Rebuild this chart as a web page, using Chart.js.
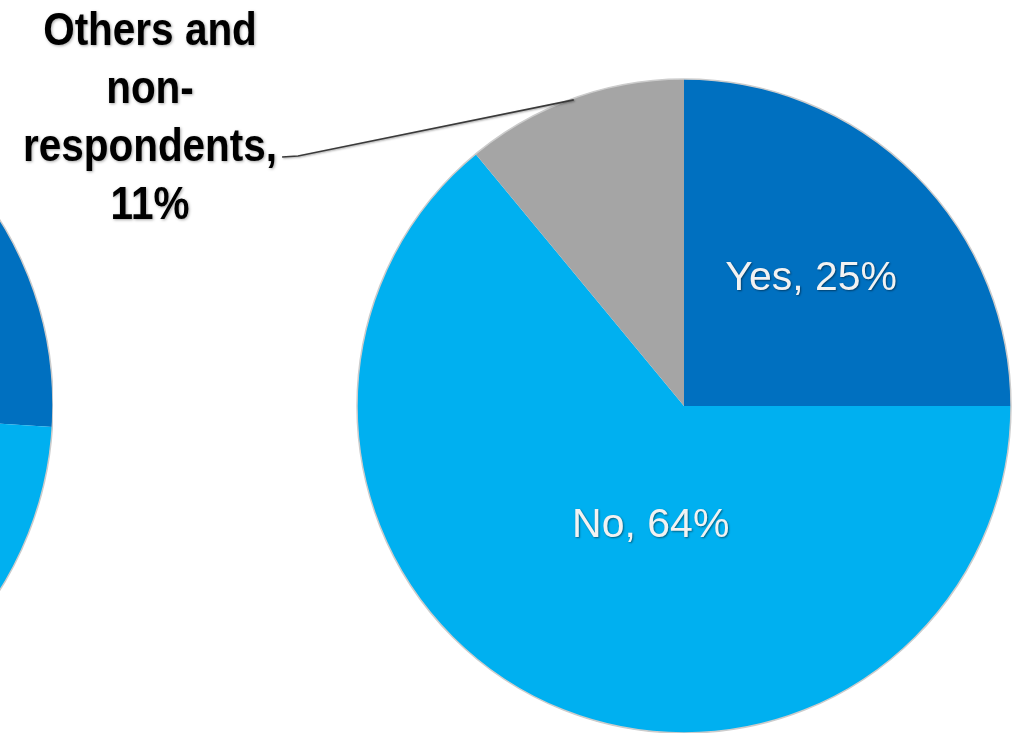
<!DOCTYPE html>
<html>
<head>
<meta charset="utf-8">
<script src="https://cdn.jsdelivr.net/npm/chart.js@4.4.1/dist/chart.umd.min.js"></script>
<style>
    html, body { margin: 0; padding: 0; background: #ffffff; overflow: hidden; }
    #page { position: relative; width: 1012px; height: 733px; overflow: hidden; }
    /* 左側另一個圓餅圖，只露出右緣 */
    #leftBox { position: absolute; left: -645px; top: 56px; width: 698px; height: 698px; }
    #mainBox { position: absolute; left: 0; top: 0; width: 1012px; height: 733px; }
</style>
</head>
<body>
<div id="page">
    <div id="leftBox"><canvas id="leftPie"></canvas></div>
    <div id="mainBox"><canvas id="mainPie"></canvas></div>
</div>
<script>
// 資料
const categories = ['Yes', 'No', 'Others and non-respondents'];
const mainValues = [25, 64, 11];
const leftValues = [26, 63, 11];
const othersLabelLines = ['Others and', 'non-', 'respondents,'];

const sliceColors = ['#0070C0', '#00B0F0', '#A5A5A5'];
const LABEL_FONT = '"Liberation Sans", Arial, sans-serif';

/**
 * 圓餅外框與資料標籤
 */
const sliceLabels = {
    id: 'sliceLabels',
    afterDatasetsDraw(chart, args, opts) {
        const ctx = chart.ctx;
        const arcs = chart.getDatasetMeta(0).data;
        const values = chart.data.datasets[0].data;
        if (!arcs.length) return;

        // 外圈淡灰色細邊
        const first = arcs[0];
        ctx.save();
        ctx.beginPath();
        ctx.arc(first.x, first.y, first.outerRadius, 0, Math.PI * 2);
        ctx.strokeStyle = '#cccccc';
        ctx.lineWidth = 1.5;
        ctx.stroke();
        ctx.restore();

        if (!opts.showText) return;

        // 扇形內的白字標籤
        ctx.save();
        ctx.font = `41px ${LABEL_FONT}`;
        ctx.textAlign = 'center';
        ctx.textBaseline = 'middle';
        ctx.fillStyle = '#f2f2f2';
        ctx.shadowColor = 'rgba(0, 0, 0, 0.45)';
        ctx.shadowBlur = 2;
        ctx.shadowOffsetX = 1;
        ctx.shadowOffsetY = 1;
        opts.inside.forEach(p => {
            const arc = arcs[p.index];
            const a = arc.startAngle + (arc.endAngle - arc.startAngle) * p.along;
            const r = arc.outerRadius * p.radial;
            const text = `${chart.data.labels[p.index]}, ${values[p.index]}%`;
            ctx.fillText(text, arc.x + Math.cos(a) * r, arc.y + Math.sin(a) * r);
        });
        ctx.restore();

        // 「其他」標籤放在圓外，字體水平壓窄，加引導線
        const o = opts.outside;
        const arc = arcs[o.index];
        const lines = othersLabelLines.concat([`${values[o.index]}%`]);
        ctx.save();
        ctx.font = `bold 46px ${LABEL_FONT}`;
        ctx.textAlign = 'center';
        ctx.textBaseline = 'alphabetic';
        ctx.fillStyle = '#000000';
        ctx.shadowColor = 'rgba(0, 0, 0, 0.35)';
        ctx.shadowBlur = 3;
        ctx.shadowOffsetX = 1;
        ctx.shadowOffsetY = 1;
        const w = ctx.measureText(lines[o.leaderLine]).width * o.squeeze;
        ctx.save();
        ctx.translate(o.x, 0);
        ctx.scale(o.squeeze, 1);
        lines.forEach((line, i) => {
            ctx.fillText(line, 0, o.y + i * o.lineHeight);
        });
        ctx.restore();

        const sx = o.x + w / 2 + 5;
        const sy = o.y + o.leaderLine * o.lineHeight - 4;
        const mid = (arc.startAngle + arc.endAngle) / 2;
        const tx = arc.x + Math.cos(mid) * arc.outerRadius * 0.995;
        const ty = arc.y + Math.sin(mid) * arc.outerRadius * 0.995;
        ctx.beginPath();
        ctx.moveTo(sx, sy);
        ctx.lineTo(sx + 16, sy - 1);
        ctx.lineTo(tx, ty);
        ctx.strokeStyle = '#3a3a3a';
        ctx.lineWidth = 1.6;
        ctx.shadowBlur = 2;
        ctx.stroke();
        ctx.restore();
    }
};

function pieConfig(values, padding, showText) {
    return {
        type: 'pie',
        data: {
            labels: categories,
            datasets: [{
                data: values,
                backgroundColor: sliceColors,
                borderWidth: 0
            }]
        },
        options: {
            responsive: true,
            maintainAspectRatio: false,
            animation: false,
            layout: { padding: padding },
            plugins: {
                legend: { display: false },
                tooltip: { enabled: false },
                sliceLabels: {
                    showText: showText,
                    inside: [
                        { index: 0, along: 0.5, radial: 0.55 },
                        { index: 1, along: 0.458, radial: 0.38 }
                    ],
                    outside: { index: 2, x: 150, y: 45, lineHeight: 58, leaderLine: 2, squeeze: 0.88 }
                }
            }
        },
        plugins: [sliceLabels]
    };
}

document.addEventListener('DOMContentLoaded', () => {
    new Chart(document.getElementById('leftPie'), pieConfig(leftValues, 0, false));
    new Chart(document.getElementById('mainPie'),
        pieConfig(mainValues, { left: 357, top: 79, right: 1, bottom: 0 }, true));
});
</script>
</body>
</html>
